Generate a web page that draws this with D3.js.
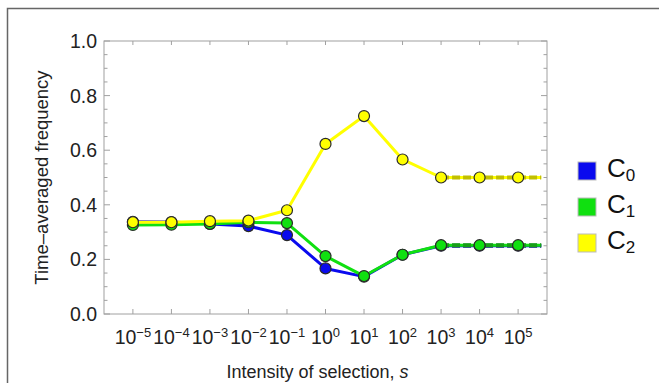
<!DOCTYPE html>
<html>
<head>
<meta charset="utf-8">
<script src="https://cdn.jsdelivr.net/npm/d3@7"></script>
<style>
  body { margin: 0; background: #fff; }
  svg { font-family: "Liberation Sans", Arial, sans-serif; }
</style>
</head>
<body>
<svg id="chart" width="659" height="383"></svg>
<script>
// exponents of s (10^k)
const exponents = [-5, -4, -3, -2, -1, 0, 1, 2, 3, 4, 5];
const seriesNames = ['C0', 'C1', 'C2'];
const c0Values = [0.338, 0.337, 0.330, 0.322, 0.289, 0.167, 0.137, 0.217, 0.250, 0.250, 0.250];
const c1Values = [0.326, 0.327, 0.330, 0.336, 0.333, 0.212, 0.139, 0.217, 0.252, 0.252, 0.252];
const c2Values = [0.336, 0.336, 0.340, 0.342, 0.380, 0.623, 0.725, 0.566, 0.500, 0.500, 0.500];
// asymptotic limits drawn dashed from 10^3 onward
const limitValues = [0.25, 0.252, 0.5];
const yTicks = [0.0, 0.2, 0.4, 0.6, 0.8, 1.0];

const colors = ['#0a0aee', '#10e010', '#ffff00'];
const dashColors = ['#1a1aa0', '#17a017', '#c2c000'];

const margin = {top: 41, right: 112, bottom: 69, left: 104};
const svgWidth = 659, svgHeight = 383;
const width = svgWidth - margin.left - margin.right;
const height = svgHeight - margin.top - margin.bottom;

const svg = d3.select('#chart');

/********* outer frame ***********/
svg.append('path')
  .attr('d', `M7.5,${svgHeight} L7.5,8.5 L${svgWidth},8.5`)
  .attr('fill', 'none')
  .attr('stroke', '#666')
  .attr('stroke-width', 1.5);

const chart = svg.append('g')
  .attr('transform', `translate(${margin.left}, ${margin.top})`);

const xScale = d3.scaleLinear().domain([-5.75, 5.75]).range([0, width]);
const yScale = d3.scaleLinear().domain([0, 1]).range([height, 0]);

/********* frame and ticks ***********/
const frameColor = '#a0a0a0';
chart.append('rect')
  .attr('x', 0).attr('y', 0)
  .attr('width', width).attr('height', height)
  .attr('fill', 'none')
  .attr('stroke', frameColor)
  .attr('stroke-width', 1);

const minorY = d3.range(0, 1.0001, 0.05);
const tickG = chart.append('g').attr('stroke', frameColor).attr('stroke-width', 1);
minorY.forEach(v => {
  const major = Math.abs(v * 5 - Math.round(v * 5)) < 1e-6;
  const len = major ? 6 : 3.5;
  const y = yScale(v);
  tickG.append('line').attr('x1', 0).attr('x2', len).attr('y1', y).attr('y2', y);
  tickG.append('line').attr('x1', width).attr('x2', width - len).attr('y1', y).attr('y2', y);
});
exponents.forEach(e => {
  const x = xScale(e);
  tickG.append('line').attr('x1', x).attr('x2', x).attr('y1', height).attr('y2', height - 5);
  tickG.append('line').attr('x1', x).attr('x2', x).attr('y1', 0).attr('y2', 4);
});

/********* tick labels ***********/
chart.append('g').selectAll('text')
  .data(yTicks).enter().append('text')
  .attr('x', -7)
  .attr('y', d => yScale(d))
  .attr('dy', '0.36em')
  .attr('text-anchor', 'end')
  .style('font-size', '19.5px')
  .attr('fill', '#222')
  .text(d => d.toFixed(1));

const xl = chart.append('g').selectAll('text')
  .data(exponents).enter().append('text')
  .attr('x', d => xScale(d))
  .attr('y', height + 30)
  .attr('text-anchor', 'middle')
  .style('font-size', '19.5px')
  .attr('fill', '#222');
xl.append('tspan').text('10');
xl.append('tspan')
  .attr('dy', '-0.55em')
  .style('font-size', '13px')
  .text(d => d < 0 ? '\u2212' + (-d) : String(d));

/********* axis titles ***********/
svg.append('text')
  .attr('x', margin.left + width / 2 - 8)
  .attr('y', 378)
  .attr('text-anchor', 'middle')
  .style('font-size', '18px')
  .attr('fill', '#222')
  .html('Intensity of selection, <tspan font-style="italic">s</tspan>');

svg.append('text')
  .attr('transform', `translate(48, ${margin.top + height / 2}) rotate(-90)`)
  .attr('text-anchor', 'middle')
  .style('font-size', '18.5px')
  .attr('fill', '#222')
  .text('Time\u2013averaged frequency');

/********* series ***********/
const allSeries = [c0Values, c1Values, c2Values];
const line = d3.line()
  .x((d, i) => xScale(exponents[i]))
  .y(d => yScale(d));

allSeries.forEach((vals, k) => {
  const solidPart = vals.slice(0, exponents.indexOf(3) + 1);
  chart.append('path')
    .datum(solidPart)
    .attr('d', line)
    .attr('fill', 'none')
    .attr('stroke', colors[k])
    .attr('stroke-width', 3)
    .attr('stroke-linejoin', 'round');

  const dashed = chart.append('g');
  dashed.append('line')
    .attr('x1', xScale(3)).attr('x2', xScale(5.6))
    .attr('y1', yScale(limitValues[k])).attr('y2', yScale(limitValues[k]))
    .attr('stroke', colors[k])
    .attr('stroke-width', 3);
  dashed.append('line')
    .attr('x1', xScale(3)).attr('x2', xScale(5.6))
    .attr('y1', yScale(limitValues[k])).attr('y2', yScale(limitValues[k]))
    .attr('stroke', dashColors[k])
    .attr('stroke-width', 4)
    .attr('stroke-dasharray', '8,3');
});

allSeries.forEach((vals, k) => {
  chart.append('g').selectAll('circle')
    .data(vals).enter().append('circle')
    .attr('cx', (d, i) => xScale(exponents[i]))
    .attr('cy', d => yScale(d))
    .attr('r', 5.5)
    .attr('fill', colors[k])
    .attr('stroke', '#2a2a2a')
    .attr('stroke-width', 1.2);
});

/********* legend ***********/
const legend = svg.append('g').attr('transform', 'translate(578, 162)');
const items = legend.selectAll('g')
  .data(seriesNames).enter().append('g')
  .attr('transform', (d, i) => `translate(0, ${i * 36})`);
items.append('rect')
  .attr('width', 18).attr('height', 18)
  .attr('fill', (d, i) => colors[i])
  .attr('stroke', '#bbb')
  .attr('stroke-width', 1);
const lt = items.append('text')
  .attr('x', 29)
  .attr('y', 15)
  .style('font-size', '26px')
  .attr('fill', '#111');
lt.append('tspan').text('C');
lt.append('tspan')
  .attr('dy', '0.25em')
  .style('font-size', '17px')
  .text(d => d.slice(1));
</script>
</body>
</html>
